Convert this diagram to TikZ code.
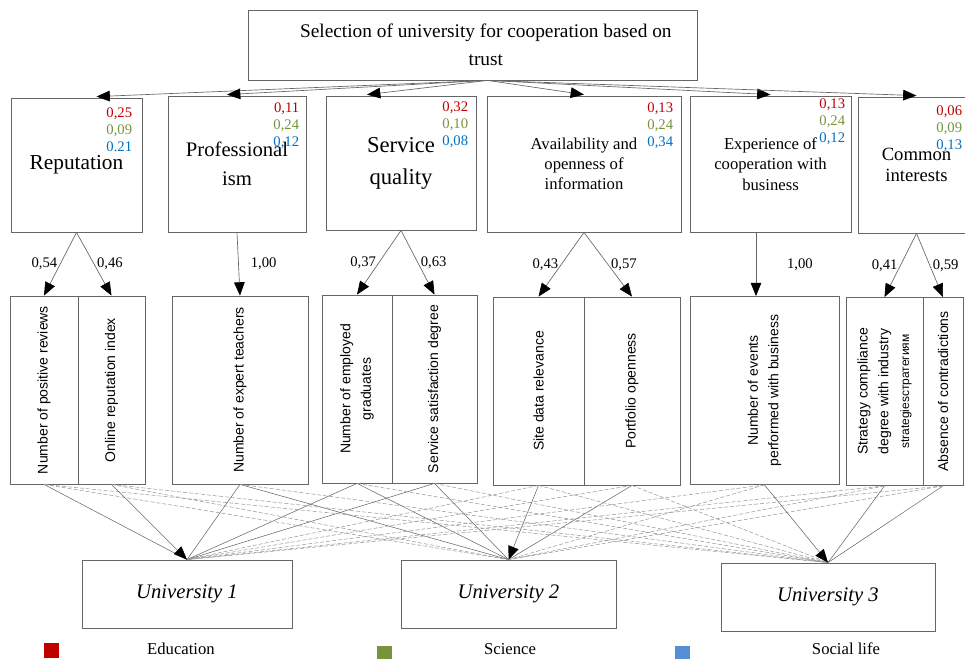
\documentclass[tikz,border=0pt]{standalone}
\usepackage{fontspec}
\setmainfont{Liberation Serif}
\setsansfont{Liberation Sans}
\usetikzlibrary{arrows.meta, calc}
\definecolor{edu}{HTML}{C00000}
\definecolor{sci}{HTML}{77933C}
\definecolor{soc}{HTML}{0070C0}
\definecolor{socsq}{HTML}{558ED5}
\newcommand{\wts}[3]{\textcolor{edu}{#1}\\\textcolor{sci}{#2}\\\textcolor{soc}{#3}}

\begin{document}
\begin{tikzpicture}
	[%
	x=0.75pt, y=-0.75pt,%
	sz/.style 2 args ={minimum width=#1*0.75pt, minimum height=#2*0.75pt},%
	box/.style ={draw=black!60, line width=0.6pt, inner sep=0pt, align=center},%
	subtxt/.style ={rotate=90, align=center, font=\sffamily\fontsize{10.5}{15.5}\selectfont},%
	wts/.style ={anchor=north east, inner sep=0pt, align=right, font=\fontsize{11}{12.75}\selectfont},%
	wlab/.style ={inner sep=2pt, font=\fontsize{11}{13}\selectfont},%
	arr/.style ={draw=black!60, line width=0.5pt, -{Triangle[length=10pt, width=8pt, color=black]}},%
	link/.style ={draw=black!60, line width=0.4pt},%
	far/.style ={draw=black!40, line width=0.4pt, dash pattern=on 3pt off 1.5pt},%
	uni/.style ={box, font=\itshape\fontsize{15.5}{18}\selectfont},%
	leg/.style ={fill=#1, inner sep=0pt, minimum size=11.25pt},%
	]

	\useasboundingbox (0,0) rectangle (965,658);

	% goal
	\node (t) [box, sz={449}{70}, font=\fontsize{14.5}{21}\selectfont] at (472.5,45)
		{\hspace*{20pt}Selection of university for cooperation based on\\\hspace*{20pt}trust};

	% criteria
	\node (c1) [box, sz={131}{134}, font=\fontsize{16}{20}\selectfont] at (76.5,165) {Reputation};
	\node (c2) [box, sz={138}{136}, font=\fontsize{15.5}{22}\selectfont] at (237,164) {Professional\\ism};
	\node (c3) [box, sz={150}{134}, font=\fontsize{17}{24}\selectfont] at (401,163) {Service\\quality};
	\node (c4) [box, sz={194}{136}, font=\fontsize{12.5}{15}\selectfont] at (584,164)
		{Availability and\\openness of\\information};
	\node (c5) [box, sz={161}{136}, font=\fontsize{12.5}{15.5}\selectfont] at (770.5,164)
		{Experience of\\cooperation with\\business};
	\node (c6) [box, sz={117}{136}, font=\fontsize{14}{16}\selectfont] at (916.5,165) {Common\\interests};

	% weights per group
	\foreach \k/\dx/\dy/\ea/\eb/\ec in {1/10/10/{0,25}/{0,09}/{0.21}, 2/7/7/{0,11}/{0,24}/{0,12}, %
										3/8/6/{0,32}/{0,10}/{0,08}, 4/8/7/{0,13}/{0,24}/{0,34}, %
										5/6/3/{0,13}/{0,24}/{0,12}, 6/13/9/{0,06}/{0,09}/{0,13}}
		\node (w\k) [wts] at ($(c\k.north east)+(-\dx,\dy)$) {\wts{\ea}{\eb}{\ec}};

	% sub-criteria
	\foreach \n/\x/\y/\w in {1/44/390/68, 2/111.5/390/67, 3/240/390/136, 4/357/389/70, 5/434.5/389/85, %
							6/538.5/391/91, 7/632/391/96, 8/764.5/390.5/149, 9/884.5/391.5/77, 10/943/391.5/40}
		\node (s\n) [box, sz={\w}{188}] at (\x,\y) {};
	\foreach \n/\txt in {1/Number of positive reviews, 2/Online reputation index, 3/Number of expert teachers, %
						4/{Number of employed\\graduates}, 5/Service satisfaction degree, 6/Site data relevance, %
						7/Portfolio openness, 8/{Number of events\\performed with business}, %
						9/{Strategy compliance\\degree with industry\\{\fontsize{9}{12}\selectfont strategiesстратегиям}}, %
						10/Absence of contradictions}
		\node (st\n) [subtxt] at (s\n) {\txt};

	% alternatives
	\node (u1) [uni, sz={210}{68}] at (187,594) {University 1};
	\node (u2) [uni, sz={215}{68}] at (508.5,594) {University 2};
	\node (u3) [uni, sz={214}{68}] at (828,597) {University 3};

	% legend
	\node (le) [leg=edu] at (51.5,650.5) {};
	\node (ls) [leg=sci] at (384.5,653.5) {};
	\node (lc) [leg=socsq] at (682.5,653.5) {};
	\node (lte) [font=\fontsize{12.5}{15}\selectfont] at (181,649) {Education};
	\node (lts) [font=\fontsize{12.5}{15}\selectfont] at (510,649) {Science};
	\node (ltc) [font=\fontsize{12.5}{15}\selectfont] at (846,648.5) {Social life};

	% goal to criteria
	\foreach \k/\dx in {1/20, 2/-10, 3/-34, 4/0, 5/0, 6/0}
		\draw [arr] ($(t.south)+(15,0)$) -- ($(c\k.north)+(\dx,-1)$);

	% criteria to sub-criteria
	\foreach \k/\s/\w/\side in {1/1/{0,54}/left, 1/2/{0,46}/right, 3/4/{0,37}/left, 3/5/{0,63}/right, %
								4/6/{0,43}/left, 4/7/{0,57}/right, 6/9/{0,41}/left, 6/10/{0,59}/right}
		\draw [arr] (c\k.south) -- node [midway, \side, wlab] {\w} (s\s.north);
	\draw [arr] (c2.south) -- node [midway, right, wlab, xshift=7pt] {1,00} (s3.north);
	\draw [arr] ($(c5.south)+(-14.5,0)$) -- node [midway, right, wlab, xshift=21pt] {1,00} ($(s8.north)+(-8.5,0)$);

	% sub-criteria to alternatives
	\foreach \s/\u in {1/1, 3/1, 4/1, 5/1, 3/2, 4/2, 5/2, 7/2, 9/3, 10/3}
		\draw [link] (s\s.south) -- (u\u.north);
	\foreach \s/\u in {6/1, 7/1, 8/1, 9/1, 10/1, 1/2, 2/2, 8/2, 9/2, 10/2, %
						1/3, 2/3, 3/3, 4/3, 5/3, 6/3, 7/3}
		\draw [far] (s\s.south) -- (u\u.north);
	\foreach \s/\u in {2/1, 6/2, 8/3}
		\draw [arr, line width=0.4pt] (s\s.south) -- (u\u.north);

\end{tikzpicture}
\end{document}
